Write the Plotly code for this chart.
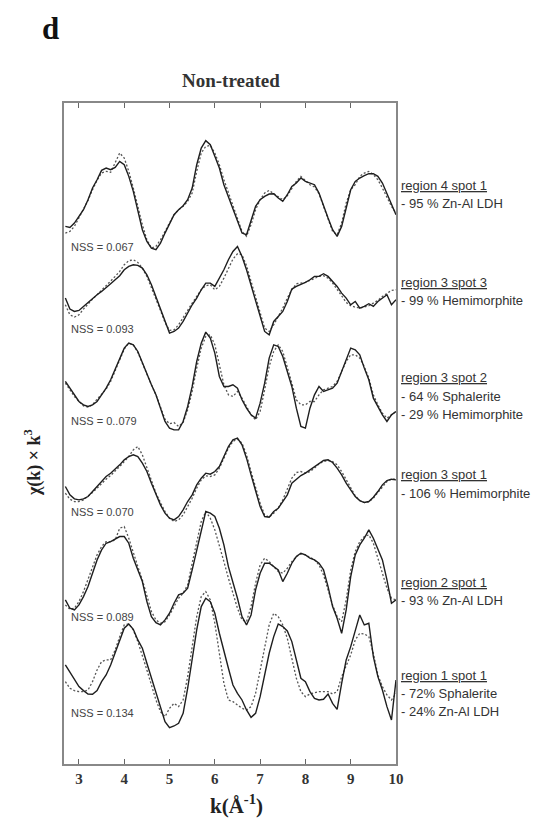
import numpy as np
import plotly.graph_objects as go

# k grid (Å^-1)
k = [round(2.7 + 0.1 * i, 1) for i in range(74)]

# chi(k)*k^3 (arbitrary units) for each spectrum: measured (solid) and LCF fit (dashed)
r4s1_data = [-0.80,-0.83,-0.70,-0.50,-0.30,0.00,0.35,0.60,0.88,0.95,0.90,0.97,1.15,1.05,0.70,0.25,-0.35,-0.90,-1.25,-1.45,
             -1.50,-1.30,-1.00,-0.70,-0.45,-0.30,-0.18,0.00,0.35,1.05,1.55,1.77,1.65,1.30,0.95,0.45,0.10,-0.30,-0.60,-1.00,
             -1.05,-0.60,-0.20,0.00,0.10,0.17,0.18,0.05,-0.05,0.15,0.40,0.50,0.65,0.55,0.50,0.45,0.20,-0.20,-0.55,-0.90,
             -1.10,-0.80,-0.25,0.30,0.55,0.65,0.72,0.78,0.78,0.70,0.50,0.20,-0.15,-0.45]
r4s1_fit = [-1.00,-0.95,-0.80,-0.55,-0.30,-0.02,0.30,0.58,0.80,0.85,0.82,1.10,1.40,1.25,0.85,0.35,-0.20,-0.75,-1.20,-1.45,
            -1.40,-1.20,-0.95,-0.68,-0.45,-0.30,-0.20,-0.05,0.20,0.85,1.40,1.60,1.63,1.40,1.05,0.60,0.20,-0.20,-0.55,-0.95,
            -1.10,-0.75,-0.30,0.00,0.20,0.28,0.18,0.10,0.00,0.12,0.35,0.55,0.70,0.58,0.45,0.38,0.18,-0.20,-0.60,-0.95,
            -1.05,-0.70,-0.10,0.30,0.45,0.70,0.80,0.85,0.75,0.60,0.35,0.05,-0.20,-0.40]

r3s3_data = [-0.15,-0.48,-0.55,-0.52,-0.40,-0.28,-0.15,-0.05,0.05,0.18,0.28,0.40,0.52,0.70,0.80,0.85,0.83,0.75,0.55,0.25,
             -0.10,-0.45,-0.85,-1.20,-1.15,-1.05,-0.85,-0.60,-0.35,-0.15,0.10,0.30,0.30,0.20,0.45,0.70,1.00,1.25,1.40,1.10,
             0.70,0.25,-0.20,-0.70,-1.15,-1.25,-0.85,-0.70,-0.55,-0.25,0.12,0.20,0.25,0.32,0.40,0.50,0.50,0.58,0.50,0.35,
             0.20,0.00,-0.15,-0.35,-0.25,-0.45,-0.40,-0.32,-0.40,-0.25,-0.15,-0.05,-0.35,-0.20]
r3s3_fit = [-0.35,-0.65,-0.72,-0.65,-0.48,-0.32,-0.18,-0.05,0.08,0.22,0.35,0.50,0.65,0.85,0.97,1.00,0.92,0.75,0.50,0.18,
            -0.18,-0.52,-0.88,-1.12,-1.10,-0.95,-0.75,-0.52,-0.30,-0.10,0.10,0.22,0.25,0.10,0.20,0.45,0.75,1.02,1.18,1.15,
            0.82,0.35,-0.15,-0.65,-1.05,-1.15,-0.95,-0.70,-0.45,-0.15,0.10,0.28,0.30,0.32,0.38,0.45,0.50,0.52,0.45,0.30,
            0.12,-0.08,-0.28,-0.38,-0.42,-0.45,-0.42,-0.38,-0.30,-0.22,-0.10,0.00,0.08,0.10]

r3s2_data = [0.15,-0.05,-0.25,-0.45,-0.55,-0.60,-0.55,-0.45,-0.25,-0.05,0.20,0.50,0.85,1.15,1.30,1.25,1.05,0.70,0.40,0.05,
             -0.25,-0.65,-1.05,-1.25,-1.30,-1.30,-1.05,-0.60,0.00,0.75,1.30,1.63,1.45,1.00,0.30,0.00,0.00,0.05,-0.05,-0.40,
             -0.65,-0.85,-0.95,-0.50,0.10,0.85,1.25,1.20,0.90,0.45,0.00,-0.65,-1.20,-1.25,-0.65,-0.25,0.00,-0.15,-0.10,-0.05,
             0.10,0.45,0.80,1.15,1.10,0.95,0.55,0.20,-0.35,-0.60,-0.85,-1.05,-0.85,-0.75]
r3s2_fit = [0.10,-0.10,-0.30,-0.45,-0.58,-0.62,-0.55,-0.38,-0.22,-0.08,0.15,0.48,0.82,1.12,1.30,1.25,1.02,0.68,0.38,0.05,
            -0.25,-0.62,-0.98,-1.12,-1.08,-1.20,-1.08,-0.70,-0.15,0.55,1.15,1.50,1.55,1.25,0.65,0.05,-0.25,-0.30,-0.15,-0.35,
            -0.60,-0.85,-1.00,-0.75,-0.10,0.60,1.05,1.25,1.05,0.60,0.10,-0.40,-0.55,-0.55,-0.45,-0.45,-0.25,-0.10,-0.05,0.00,
            0.15,0.45,0.75,0.95,0.95,0.85,0.60,0.25,-0.25,-0.55,-0.80,-0.95,-0.85,-0.75]

r3s1_data = [0.00,-0.25,-0.37,-0.40,-0.37,-0.30,-0.15,0.00,0.15,0.30,0.40,0.52,0.65,0.80,0.90,0.95,0.90,0.70,0.45,0.10,
             -0.25,-0.55,-0.80,-0.95,-1.00,-0.90,-0.70,-0.45,-0.25,0.05,0.25,0.40,0.37,0.45,0.60,0.90,1.20,1.40,1.45,1.25,
             0.85,0.35,-0.15,-0.60,-0.90,-0.92,-0.75,-0.65,-0.45,-0.25,0.10,0.22,0.33,0.40,0.50,0.60,0.70,0.78,0.80,0.72,
             0.55,0.35,0.10,-0.10,-0.30,-0.42,-0.48,-0.45,-0.32,-0.15,0.05,0.18,0.22,0.20]
r3s1_fit = [-0.20,-0.38,-0.45,-0.45,-0.40,-0.30,-0.18,-0.05,0.10,0.22,0.33,0.45,0.60,0.75,0.90,1.10,1.20,0.95,0.55,0.15,
            -0.20,-0.48,-0.75,-0.95,-1.05,-1.00,-0.85,-0.60,-0.35,-0.05,0.20,0.32,0.30,0.35,0.55,0.85,1.15,1.35,1.42,1.30,
            0.95,0.45,-0.05,-0.50,-0.85,-0.92,-0.80,-0.65,-0.40,-0.10,0.25,0.42,0.45,0.40,0.45,0.55,0.68,0.75,0.78,0.75,
            0.65,0.45,0.20,-0.05,-0.28,-0.42,-0.48,-0.46,-0.35,-0.18,0.00,0.15,0.22,0.22]

r2s1_data = [-0.60,-0.85,-0.90,-0.75,-0.50,-0.20,0.20,0.60,0.90,1.10,1.15,1.22,1.30,1.30,1.10,0.65,0.30,-0.05,-0.65,-1.10,
             -1.28,-1.35,-1.20,-1.00,-0.70,-0.45,-0.40,-0.25,0.30,0.90,1.50,2.05,2.00,1.90,1.55,1.05,0.40,-0.05,-0.55,-1.10,
             -1.35,-1.05,-0.30,0.20,0.50,0.50,0.40,0.30,-0.05,0.20,0.50,0.70,0.80,0.75,0.65,0.60,0.50,0.30,-0.20,-0.80,
             -1.15,-1.60,-0.90,0.10,0.75,1.05,1.25,1.50,1.25,0.95,0.60,0.00,-0.70,-0.60]
r2s1_fit = [-0.75,-0.88,-0.85,-0.65,-0.35,0.00,0.40,0.75,1.00,1.15,1.15,1.20,1.55,1.60,1.25,0.80,0.40,0.00,-0.50,-0.95,
            -1.20,-1.30,-1.25,-1.05,-0.80,-0.55,-0.40,-0.15,0.50,1.15,1.75,2.05,1.85,1.50,1.05,0.55,0.05,-0.40,-0.85,-1.20,
            -1.25,-0.80,-0.10,0.45,0.65,0.55,0.40,0.25,0.20,0.35,0.55,0.70,0.78,0.75,0.68,0.60,0.45,0.15,-0.30,-0.75,
            -1.10,-1.25,-0.60,0.30,0.85,1.15,1.30,1.35,1.10,0.65,0.20,-0.25,-0.55,-0.60]

r1s1_data = [0.25,0.02,-0.20,-0.40,-0.52,-0.62,-0.63,-0.52,-0.25,-0.05,0.25,0.60,1.00,1.35,1.48,1.32,1.00,0.75,0.30,-0.15,
             -0.60,-1.05,-1.45,-1.63,-1.58,-1.50,-1.20,-0.45,0.40,1.30,2.00,2.25,2.15,1.80,1.20,0.65,0.15,-0.35,-0.60,-0.80,
             -1.10,-1.32,-1.20,-0.70,-0.05,0.60,1.10,1.48,1.40,1.27,0.95,0.40,-0.15,-0.25,-0.55,-0.75,-0.80,-0.78,-0.62,-0.90,
             -1.08,-0.30,0.40,0.80,1.30,1.75,1.45,1.50,0.50,-0.10,-0.50,-1.00,-1.40,-0.20]
r1s1_fit = [-0.25,-0.45,-0.52,-0.55,-0.55,-0.50,-0.25,0.10,0.35,0.40,0.40,0.70,1.10,1.45,1.48,1.30,0.95,0.55,0.10,-0.35,
            -0.80,-1.15,-1.30,-1.05,-0.90,-1.00,-0.80,-0.10,0.80,1.70,2.30,2.45,2.20,1.50,0.60,-0.30,-0.80,-0.85,-0.95,-1.05,
            -1.10,-1.00,-0.60,0.10,0.80,1.45,1.80,1.70,1.45,1.05,0.45,-0.15,-0.55,-0.70,-0.62,-0.58,-0.55,-0.55,-0.55,-0.62,
            -0.55,-0.10,0.20,0.55,1.00,1.20,1.18,1.10,0.60,-0.05,-0.40,-0.65,-0.80,-0.60]

spectra = [
    ("region 4 spot 1", r4s1_data, r4s1_fit, 16.92),
    ("region 3 spot 3", r3s3_data, r3s3_fit, 14.12),
    ("region 3 spot 2", r3s2_data, r3s2_fit, 11.32),
    ("region 3 spot 1", r3s1_data, r3s1_fit, 8.32),
    ("region 2 spot 1", r2s1_data, r2s1_fit, 5.52),
    ("region 1 spot 1", r1s1_data, r1s1_fit, 2.72),
]
nss_labels = ["NSS = 0.067", "NSS = 0.093", "NSS = 0..079", "NSS = 0.070", "NSS = 0.089", "NSS = 0.134"]
fit_labels = [
    ["- 95 % Zn-Al LDH"],
    ["- 99 % Hemimorphite"],
    ["- 64 % Sphalerite", "- 29 % Hemimorphite"],
    ["- 106 % Hemimorphite"],
    ["- 93 % Zn-Al LDH"],
    ["- 72% Sphalerite", "- 24% Zn-Al LDH"],
]
x_ticks = [3, 4, 5, 6, 7, 8, 9, 10]

fig = go.Figure()
for name, dat, fit, off in spectra:
    fig.add_trace(go.Scatter(x=k, y=[v + off for v in fit], mode="lines",
                             line=dict(color="#555555", width=1.3, dash="2px,2px"),
                             showlegend=False, hoverinfo="skip"))
    fig.add_trace(go.Scatter(x=k, y=[v + off for v in dat], mode="lines",
                             line=dict(color="#1e1e1e", width=1.4),
                             showlegend=False, name=name))

L, R, T, B = 64, 396, 103, 764
def px(x):
    return (x - L) / (R - L)
def py(y):
    return (B - y) / (B - T)

sans = "Arial, Liberation Sans, sans-serif"
serif = "Times New Roman, Liberation Serif, serif"

ann = []
nss_y = [247, 329, 421, 512, 617, 713]
head_y = [185, 282, 378, 475, 582, 675]
for i, (name, dat, fit, off) in enumerate(spectra):
    ann.append(dict(x=px(69), y=py(nss_y[i]), xref="paper", yref="paper", text=nss_labels[i],
                    showarrow=False, xanchor="left", yanchor="middle",
                    font=dict(family=sans, size=11, color="#444444")))
    ann.append(dict(x=px(399), y=py(head_y[i]), xref="paper", yref="paper",
                    text="<u>" + name + "</u>", showarrow=False, xanchor="left", yanchor="middle",
                    font=dict(family=sans, size=13, color="#333333")))
    for j, t in enumerate(fit_labels[i]):
        ann.append(dict(x=px(399), y=py(head_y[i] + 18 * (j + 1)), xref="paper", yref="paper",
                        text=t, showarrow=False, xanchor="left", yanchor="middle",
                        font=dict(family=sans, size=13, color="#333333")))

ann.append(dict(x=px(231), y=py(80), xref="paper", yref="paper", text="<b>Non-treated</b>",
                showarrow=False, xanchor="center", yanchor="middle",
                font=dict(family=serif, size=19, color="#333333")))
ann.append(dict(x=px(50), y=py(28), xref="paper", yref="paper", text="<b>d</b>",
                showarrow=False, xanchor="center", yanchor="middle",
                font=dict(family=serif, size=31, color="#111111")))
ann.append(dict(x=px(236), y=py(789), xref="paper", yref="paper", text="<b>k(Å<sup>-1</sup>)</b>",
                showarrow=False, xanchor="center", yanchor="top",
                font=dict(family=serif, size=21, color="#222222")))
ann.append(dict(x=px(33), y=py(463), xref="paper", yref="paper", text="<b>χ(k) × k<sup>3</sup></b>",
                showarrow=False, textangle=-90, xanchor="center", yanchor="middle",
                font=dict(family=serif, size=18, color="#222222")))

fig.update_layout(
    width=554, height=818,
    margin=dict(l=L, r=554 - R, t=T, b=818 - B),
    paper_bgcolor="white", plot_bgcolor="white",
    annotations=ann,
    xaxis=dict(range=[2.67, 10.0], tickvals=x_ticks, ticktext=["<b>%d</b>" % t for t in x_ticks],
               ticks="inside", ticklen=5,
               tickcolor="#666666", showline=True, linecolor="#888888", linewidth=1.5, mirror="ticks",
               showgrid=False, zeroline=False,
               tickfont=dict(family=serif, size=15, color="#333333")),
    yaxis=dict(range=[0, 19.82], showticklabels=False, ticks="", showline=True, linecolor="#888888",
               linewidth=1.5, mirror=True, showgrid=False, zeroline=False),
)
fig.write_html("out.html")
